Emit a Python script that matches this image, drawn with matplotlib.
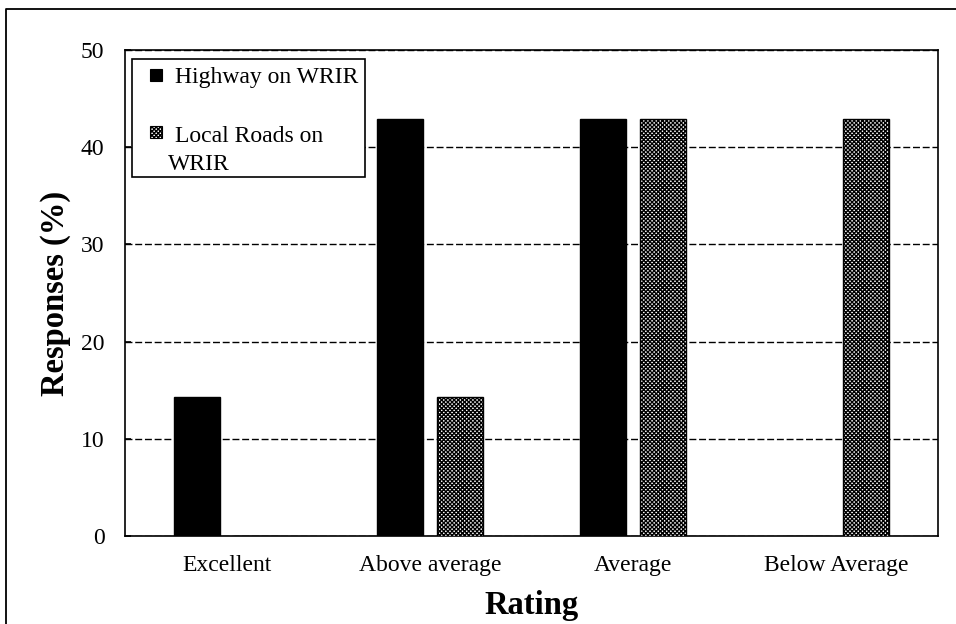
import matplotlib
matplotlib.use("Agg")
import matplotlib.pyplot as plt
import numpy as np
from matplotlib.patches import Rectangle
from matplotlib.lines import Line2D

ratings = ["Excellent", "Above average", "Average", "Below Average"]
highway = [14.3, 42.9, 42.9, 0.0]
local_roads = [0.0, 14.3, 42.9, 42.9]
series_names = ["Highway on WRIR", "Local Roads on", "WRIR"]

plt.rcParams['font.family'] = ['Liberation Serif', 'DejaVu Serif']
plt.rcParams['hatch.linewidth'] = 1.0

fig = plt.figure(figsize=(9.56, 6.24), dpi=100)
ax = fig.add_axes([0.131, 0.141, 0.850, 0.779])

x = np.arange(len(ratings))
w = 0.227
off = 0.147
ax.bar(x - off, highway, w, color="black", edgecolor="black", zorder=3)
ax.bar(x + off, local_roads, w, color="white", edgecolor="black", hatch="xxxxxxxx",
       linewidth=1.0, zorder=3)

ax.set_ylim(0, 50)
ax.set_xlim(-0.5, 3.5)
ax.set_yticks(range(0, 51, 10))
ax.set_xticks(x)
ax.set_xticklabels(ratings)
ax.tick_params(axis="x", labelsize=17, length=0, pad=14)
ax.tick_params(axis="y", labelsize=17, direction="in", length=4, width=1.2, pad=15)
ax.yaxis.grid(True, linestyle=(0, (5, 2)), color="black", linewidth=1.0, zorder=0)
for s in ax.spines.values():
    s.set_linewidth(1.2)

ax.set_xlabel("Rating", fontsize=23.5, fontweight="bold", labelpad=10)
ax.set_ylabel("Responses (%)", fontsize=23.5, fontweight="bold", labelpad=7)

# legend box, drawn by hand so the marker sits on the first line of the wrapped label
ax.add_patch(Rectangle((0.0086, 0.739), 0.2866, 0.2425, transform=ax.transAxes,
                       facecolor="white", edgecolor="black", linewidth=1.2, zorder=5))
ax.add_patch(Rectangle((0.0305, 0.936), 0.0148, 0.0247, transform=ax.transAxes,
                       facecolor="black", edgecolor="black", linewidth=0.8, zorder=6))
ax.add_patch(Rectangle((0.0305, 0.819), 0.0148, 0.0247, transform=ax.transAxes,
                       facecolor="white", edgecolor="black", hatch="xxxxxxxx",
                       linewidth=0.8, zorder=6))
ax.text(0.0615, 0.944, series_names[0], transform=ax.transAxes, fontsize=17,
        va="center", ha="left", zorder=7)
ax.text(0.0615, 0.822, series_names[1], transform=ax.transAxes, fontsize=17,
        va="center", ha="left", zorder=7)
ax.text(0.0529, 0.764, series_names[2], transform=ax.transAxes, fontsize=17,
        va="center", ha="left", zorder=7)

# outer chart-area frame (only left and top edges fall inside the crop)
fig.add_artist(Line2D([0.0063, 0.0063, 1.0], [0.0, 0.986, 0.986],
                      transform=fig.transFigure, color="black", linewidth=1.3))

fig.savefig("out.png", dpi=100)
